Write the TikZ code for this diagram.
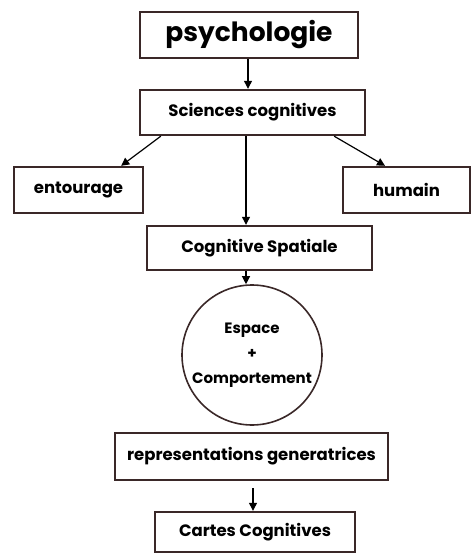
\documentclass[tikz,border=0pt]{standalone}
\usepackage{fontspec}
\setmainfont{Poppins}
\usetikzlibrary{arrows.meta,calc}
\definecolor{edge}{HTML}{3A2828}
\begin{document}
\begin{tikzpicture}[x=1pt,y=-1pt,
  box/.style={draw=edge,line width=2.4pt,fill=white,inner sep=0pt,font=\fontsize{16.5}{18}\selectfont\bfseries},
  arr/.style={draw=black,line width=1.2pt,-{Triangle[length=8pt,width=8pt]}}]
\useasboundingbox (0,0) rectangle (472,554);
\node[box,minimum width=218pt,minimum height=46pt,font=\fontsize{26.5}{30}\selectfont\bfseries] (psy) at (249,35) {psychologie};
\node[box,minimum width=225pt,minimum height=45pt] (sci) at (252.5,112.5) {Sciences cognitives};
\node[box,minimum width=129pt,minimum height=46pt] (ent) at (78.5,190) {entourage};
\node[box,minimum width=127pt,minimum height=46pt] (hum) at (406.5,190) {humain};
\node[box,minimum width=225pt,minimum height=44pt] (cog) at (259.5,248) {Cognitive Spatiale};
\node[draw=edge,line width=1.6pt,circle,minimum size=140pt,inner sep=0pt,align=center,font=\fontsize{15}{25}\selectfont\bfseries] (circ) at (252,355) {Espace\\+\\Comportement};
\node[box,minimum width=273pt,minimum height=47pt] (rep) at (251.5,456.5) {representations generatrices};
\node[box,minimum width=200pt,minimum height=40pt] (car) at (255,532) {Cartes Cognitives};
\draw[arr] ([xshift=-1pt]psy.south) -- ([xshift=-1pt]psy.south |- sci.north);
\draw[arr] ([xshift=22pt]sci.south west) -- ([xshift=-23pt]ent.north east);
\draw[arr] ([xshift=-32pt]sci.south east) -- ([xshift=-21.5pt]hum.north);
\draw[arr] ([xshift=-6.5pt]sci.south) -- ([xshift=-6.5pt]sci.south |- cog.north);
\draw[arr] ([xshift=-13.5pt]cog.south) -- ([xshift=-6pt]circ.north);
\draw[arr] ([xshift=1.5pt,yshift=-7pt]rep.south) -- ([xshift=-2pt]car.north);
\end{tikzpicture}
\end{document}
